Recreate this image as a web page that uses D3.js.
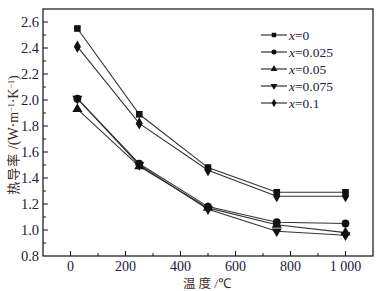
<!DOCTYPE html>
<html><head><meta charset="utf-8">
<script src="https://cdn.jsdelivr.net/npm/d3@7"></script>
<style>body{margin:0;background:#fff}svg{display:block}</style>
</head><body>
<svg id="c" width="387" height="291"></svg>
<script>
const temps = [25, 250, 500, 750, 1000];
const seriesNames = ["0", "0.025", "0.05", "0.075", "0.1"];
const s0 = [2.55, 1.89, 1.48, 1.29, 1.29];
const s025 = [2.01, 1.51, 1.18, 1.06, 1.05];
const s05 = [1.93, 1.49, 1.17, 1.04, 0.98];
const s075 = [2.01, 1.50, 1.16, 0.99, 0.96];
const s1 = [2.41, 1.82, 1.46, 1.26, 1.26];
const symbols = ["square", "circle", "triangle", "triangleDown", "diamond"];
const xTicks = [0, 200, 400, 600, 800, 1000];
const xTickLabels = ["0", "200", "400", "600", "800", "1 000"];
const yTicks = [0.8, 1.0, 1.2, 1.4, 1.6, 1.8, 2.0, 2.2, 2.4, 2.6];

const allSeries = [s0, s025, s05, s075, s1];
const svg = d3.select("#c");
const L = 43, R = 373, T = 9, B = 256;
const x = d3.scaleLinear().domain([-100, 1100]).range([L, R]);
const y = d3.scaleLinear().domain([0.8, 2.7]).range([B, T]);
const numCol = "#1c2038", zhCol = "#3b2a22";
const font = "'Liberation Serif','Times New Roman',serif";

svg.append("rect").attr("x", L).attr("y", T).attr("width", R - L).attr("height", B - T)
  .attr("fill", "none").attr("stroke", "#111").attr("stroke-width", 1.2);

const xMinor = d3.range(-100, 1101, 100).filter(v => v > -100 && v < 1100);
svg.append("g").selectAll("line").data(xMinor).join("line")
  .attr("x1", d => x(d)).attr("x2", d => x(d))
  .attr("y1", B).attr("y2", d => B - (d % 200 === 0 ? 5 : 3))
  .attr("stroke", "#111").attr("stroke-width", 1);
svg.append("g").selectAll("text").data(xTicks).join("text")
  .attr("x", d => x(d)).attr("y", 271).attr("text-anchor", "middle")
  .attr("font-family", font).attr("font-size", 14).attr("fill", numCol)
  .text((d, i) => xTickLabels[i]);

const yMinor = d3.range(9, 27).map(v => v / 10);
svg.append("g").selectAll("line").data(yMinor).join("line")
  .attr("x1", L).attr("x2", d => L + (Math.round(d * 10) % 2 === 0 ? 5 : 3))
  .attr("y1", d => y(d)).attr("y2", d => y(d))
  .attr("stroke", "#111").attr("stroke-width", 1);
svg.append("g").selectAll("text").data(yTicks).join("text")
  .attr("x", 39).attr("y", d => y(d) + 5).attr("text-anchor", "end")
  .attr("font-family", font).attr("font-size", 14.5).attr("fill", numCol)
  .text(d => d.toFixed(1));

svg.append("text").attr("transform", "translate(18,135) rotate(-90)")
  .attr("text-anchor", "middle").attr("font-size", 14).attr("fill", zhCol)
  .attr("font-family", font)
  .html("<tspan font-family=\"'Noto Sans CJK SC'\" font-size='13' letter-spacing='1'>热导率</tspan> /(W·m<tspan baseline-shift='super' font-size='8'>−1</tspan>·K<tspan baseline-shift='super' font-size='8'>−1</tspan>)");
svg.append("text").attr("x", 207).attr("y", 288).attr("text-anchor", "middle")
  .attr("font-size", 12.5).attr("fill", zhCol).attr("font-family", "'Noto Sans CJK SC'")
  .html("<tspan letter-spacing='3'>温度</tspan><tspan font-family=\"'Liberation Serif',serif\" font-size='13.5'>/℃</tspan>");

function sym(name, size) {
  const m = {square: d3.symbolSquare, circle: d3.symbolCircle, triangle: d3.symbolTriangle,
             diamond: d3.symbolDiamond};
  if (name === "triangleDown") return d3.symbol(d3.symbolTriangle, size)();
  return d3.symbol(m[name], size)();
}

const line = d3.line().x((d, i) => x(temps[i])).y(d => y(d));
allSeries.forEach((s, k) => {
  svg.append("path").attr("d", line(s)).attr("fill", "none")
    .attr("stroke", "#333").attr("stroke-width", 1.1);
});
allSeries.forEach((s, k) => {
  svg.append("g").selectAll("path").data(s).join("path")
    .attr("d", sym(symbols[k], symbols[k] === "circle" ? 48 : 44))
    .attr("transform", (d, i) => `translate(${x(temps[i])},${y(d)})` + (symbols[k] === "triangleDown" ? " rotate(180)" : ""))
    .attr("fill", "#111");
});

const lg = svg.append("g");
seriesNames.forEach((n, k) => {
  const yy = 35 + k * 17;
  lg.append("line").attr("x1", 261).attr("x2", 287).attr("y1", yy).attr("y2", yy)
    .attr("stroke", "#222").attr("stroke-width", 1.1);
  lg.append("path").attr("d", sym(symbols[k], 20))
    .attr("transform", `translate(274,${yy})` + (symbols[k] === "triangleDown" ? " rotate(180)" : ""))
    .attr("fill", "#111");
  lg.append("text").attr("x", 289).attr("y", yy + 4.5)
    .attr("font-family", font).attr("font-size", 13.5).attr("fill", numCol)
    .html(`<tspan font-style='italic'>x</tspan>=${n}`);
});
</script>
</body></html>
